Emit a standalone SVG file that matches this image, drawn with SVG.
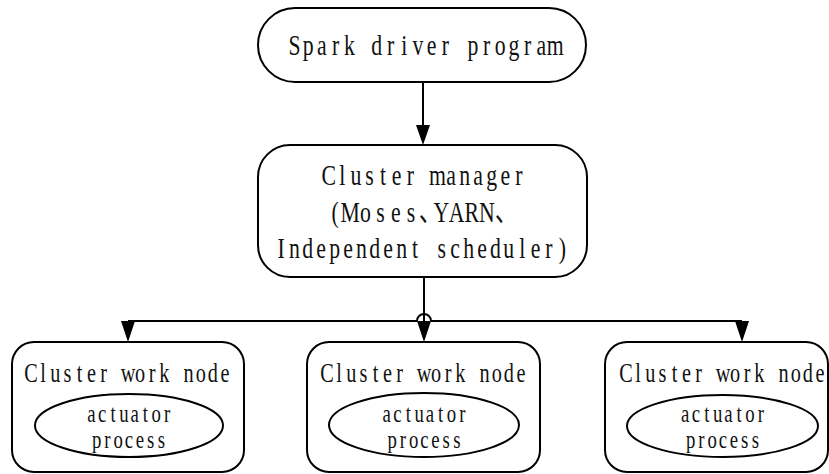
<svg xmlns="http://www.w3.org/2000/svg" width="829" height="474" viewBox="0 0 829 474">
<style>
.box{fill:#fff;stroke:#000;stroke-width:2}
.edge{fill:none;stroke:#000;stroke-width:2}
.head{fill:#000}
.t{font-family:"Liberation Serif","Noto Sans CJK SC",serif;fill:#111;text-anchor:middle}
.big{font-size:29px}
.mid{font-size:27px}
.sm{font-size:25px}
</style>
<rect width="829" height="474" fill="#fff"/>
<g id="connectors">
<line class="edge" x1="423" y1="82" x2="423" y2="125"/>
<path class="head" d="M416,125 L430,125 L423,145 Z"/>
<line class="edge" x1="424" y1="277" x2="424" y2="321"/>
<line class="edge" x1="128" y1="321" x2="417" y2="321"/>
<path class="edge" d="M417,321 A7,7 0 0 1 431,321"/>
<line class="edge" x1="431" y1="321" x2="742" y2="321"/>
<path class="head" d="M121,321 L135,321 L128,342 Z"/>
<path class="head" d="M417,321 L431,321 L424,342 Z"/>
<path class="head" d="M735,321 L749,321 L742,342 Z"/>
</g>
<g id="driver">
<rect class="box" x="258" y="8" width="328" height="74" rx="37" ry="37"/>
<text class="t big" transform="translate(294.5,55) scale(0.75,1)" x="0 18.29 36.59 54.88 73.17 91.47 109.76 128.05 146.35 164.64 182.93 201.23 219.52 237.81 256.11 274.4 292.69 310.99 329.28 347.57" y="0">Spark driver program</text>
</g>
<g id="manager">
<rect class="box" x="258" y="145" width="329" height="132" rx="32" ry="32"/>
<text class="t big" transform="translate(328.8,185) scale(0.75,1)" x="0 18.11 36.21 54.32 72.43 90.53 108.64 126.75 144.85 162.96 181.07 199.17 217.28 235.39 253.49" y="0">Cluster manager</text>
<text class="t big" transform="translate(335,222) scale(0.75,1)" x="0 20.25 40.5 60.75 81 101.25 126.5 141.75 162 182.25 202.5 227.75" y="0">(Moses、YARN、</text>
<text class="t big" transform="translate(281,258) scale(0.75,1)" x="0 17.87 35.73 53.6 71.47 89.33 107.2 125.07 142.93 160.8 178.67 196.53 214.4 232.27 250.13 268 285.87 303.73 321.6 339.47 357.33 375.2" y="0">Independent scheduler)</text>
</g>
<g id="worker1">
<rect class="box" x="12" y="342" width="232" height="130" rx="22" ry="22"/>
<text class="t mid" transform="translate(31,382) scale(0.75,1)" x="0 16.17 32.33 48.5 64.67 80.83 97 113.17 129.33 145.5 161.67 177.83 194 210.17 226.33 242.5 258.67" y="0">Cluster work node</text>
<ellipse class="box" cx="129" cy="425.5" rx="94" ry="31.5"/>
<text class="t sm" transform="translate(91.45,422) scale(0.75,1)" x="0 14.4 28.8 43.2 57.6 72 86.4 100.8" y="0">actuator</text>
<text class="t sm" transform="translate(96.6,448) scale(0.75,1)" x="0 14.4 28.8 43.2 57.6 72 86.4" y="0">process</text>
</g>
<g id="worker2">
<rect class="box" x="307" y="342" width="233" height="130" rx="22" ry="22"/>
<text class="t mid" transform="translate(327,382) scale(0.75,1)" x="0 16.17 32.33 48.5 64.67 80.83 97 113.17 129.33 145.5 161.67 177.83 194 210.17 226.33 242.5 258.67" y="0">Cluster work node</text>
<ellipse class="box" cx="424" cy="425" rx="95" ry="32"/>
<text class="t sm" transform="translate(386.7,422) scale(0.75,1)" x="0 14.4 28.8 43.2 57.6 72 86.4 100.8" y="0">actuator</text>
<text class="t sm" transform="translate(392.1,448) scale(0.75,1)" x="0 14.4 28.8 43.2 57.6 72 86.4" y="0">process</text>
</g>
<g id="worker3">
<rect class="box" x="605" y="342" width="223" height="130" rx="22" ry="22"/>
<text class="t mid" transform="translate(626,382) scale(0.75,1)" x="0 16.17 32.33 48.5 64.67 80.83 97 113.17 129.33 145.5 161.67 177.83 194 210.17 226.33 242.5 258.67" y="0">Cluster work node</text>
<ellipse class="box" cx="722.5" cy="426" rx="95.5" ry="31"/>
<text class="t sm" transform="translate(685.2,422) scale(0.75,1)" x="0 14.4 28.8 43.2 57.6 72 86.4 100.8" y="0">actuator</text>
<text class="t sm" transform="translate(690.6,448) scale(0.75,1)" x="0 14.4 28.8 43.2 57.6 72 86.4" y="0">process</text>
</g>
</svg>
